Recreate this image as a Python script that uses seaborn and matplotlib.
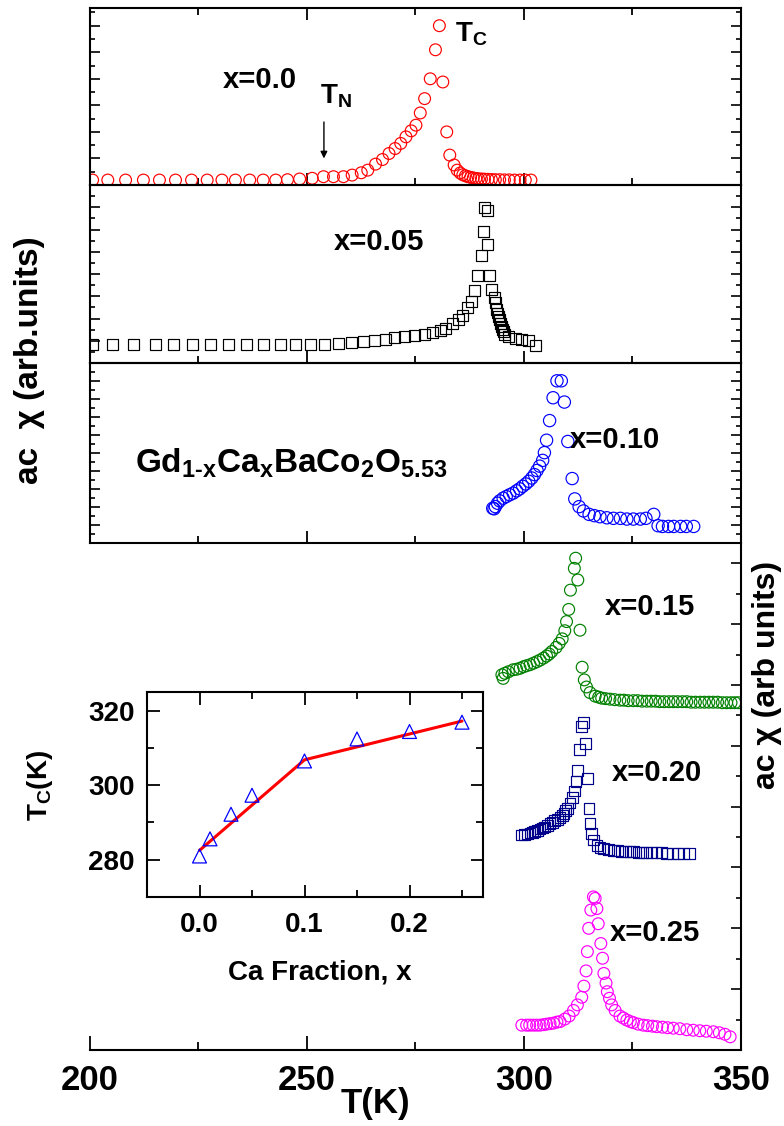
import numpy as np
import pandas as pd
import seaborn as sns
import matplotlib
matplotlib.use("Agg")
import matplotlib.pyplot as plt
from matplotlib.ticker import MultipleLocator

# ---------------- data ----------------
T_x000 = [200.6, 204.1, 208.2, 212.3, 216.0, 219.7, 223.4, 227.0, 230.4, 233.5, 236.8, 239.9, 242.8,
          245.5, 248.3, 251.2, 253.8, 256.1, 258.4, 260.4, 262.5, 264.0, 265.8, 267.4, 268.9, 270.3,
          271.6, 272.8, 274.0, 275.1, 276.1, 277.1, 278.4, 279.6, 280.5, 281.3, 282.2, 282.9, 283.9,
          284.6, 285.3, 285.9, 286.5, 287.1, 287.7, 288.3, 288.9, 289.5, 290.2, 290.9, 291.7, 292.5,
          293.4, 294.4, 295.5, 296.6, 297.8, 299.1, 300.3, 301.6]
chi_x000 = [0.028, 0.028, 0.028, 0.028, 0.028, 0.028, 0.028, 0.028, 0.028, 0.028, 0.028, 0.028, 0.028,
            0.030, 0.034, 0.038, 0.047, 0.047, 0.047, 0.056, 0.069, 0.084, 0.118, 0.144, 0.178, 0.206,
            0.235, 0.272, 0.306, 0.338, 0.407, 0.488, 0.600, 0.764, 0.900, 0.582, 0.300, 0.169, 0.113,
            0.084, 0.068, 0.058, 0.052, 0.047, 0.043, 0.040, 0.037, 0.035, 0.034, 0.033, 0.032, 0.031,
            0.030, 0.030, 0.029, 0.029, 0.028, 0.028, 0.028, 0.028]

T_x005 = [200.6, 205.1, 210.0, 215.0, 219.3, 223.7, 227.8, 231.9, 236.1, 239.9, 243.8, 247.4, 250.7,
          254.1, 257.2, 260.2, 263.1, 265.6, 268.0, 270.2, 272.5, 274.8, 277.1, 278.9, 280.8, 282.0,
          283.6, 284.9, 285.9, 287.0, 287.8, 288.5, 289.2, 290.1, 290.6, 291.0, 291.5, 291.6, 292.1,
          292.6, 293.1, 293.4, 293.7, 294.0, 294.2, 294.4, 294.6, 294.8, 295.0, 295.2, 295.4, 296.4,
          298.0, 299.5, 301.1, 302.6]
chi_x005 = [0.106, 0.106, 0.106, 0.106, 0.106, 0.106, 0.106, 0.106, 0.106, 0.106, 0.106, 0.106, 0.106,
            0.106, 0.110, 0.114, 0.120, 0.125, 0.133, 0.141, 0.148, 0.156, 0.162, 0.171, 0.183, 0.196,
            0.221, 0.243, 0.266, 0.310, 0.344, 0.405, 0.494, 0.605, 0.741, 0.875, 0.856, 0.667, 0.494,
            0.414, 0.367, 0.338, 0.300, 0.281, 0.262, 0.243, 0.224, 0.205, 0.190, 0.177, 0.160, 0.148,
            0.139, 0.133, 0.125, 0.097]

T_x010 = [292.8, 293.1, 293.4, 293.9, 294.4, 295.2, 295.9, 296.7, 297.5, 298.3, 299.0, 299.7, 300.4,
          301.1, 301.8, 302.4, 303.0, 303.6, 304.3, 304.7, 305.2, 305.9, 306.7, 307.6, 308.6, 309.3,
          310.1, 311.1, 311.7, 312.7, 313.7, 315.0, 316.2, 317.5, 319.1, 320.6, 322.2, 323.7, 325.2,
          326.8, 328.1, 329.9, 330.9, 331.9, 333.3, 334.5, 336.1, 337.4, 339.1]
chi_x010 = [0.193, 0.190, 0.202, 0.221, 0.234, 0.249, 0.258, 0.268, 0.277, 0.290, 0.301, 0.315, 0.328,
            0.343, 0.361, 0.380, 0.403, 0.427, 0.459, 0.502, 0.571, 0.680, 0.807, 0.901, 0.901, 0.783,
            0.564, 0.358, 0.245, 0.202, 0.178, 0.159, 0.152, 0.146, 0.140, 0.137, 0.137, 0.133, 0.133,
            0.133, 0.137, 0.159, 0.096, 0.092, 0.092, 0.092, 0.092, 0.092, 0.092]

T_x015 = [294.9, 295.2, 295.6, 296.4, 297.5, 298.3, 299.1, 299.9, 300.6, 301.4, 302.2, 303.0, 303.7,
          304.5, 305.2, 305.8, 306.4, 307.4, 308.1, 308.8, 309.4, 309.8, 310.3, 310.7, 311.6, 311.9,
          312.4, 312.9, 313.4, 313.9, 314.4, 315.2, 316.4, 317.2, 317.9, 318.8, 319.8, 320.9, 322.1,
          323.0, 324.0, 325.2, 326.2, 327.2, 328.3, 329.3, 330.3, 331.3, 332.3, 333.4, 334.4, 335.4,
          336.5, 337.5, 338.5, 339.5, 340.6, 341.6, 342.6, 343.6, 344.6, 345.7, 346.7, 347.7, 348.6,
          349.4]
chi_x015 = [0.740, 0.733, 0.743, 0.746, 0.750, 0.751, 0.753, 0.756, 0.758, 0.760, 0.763, 0.766, 0.769,
            0.773, 0.777, 0.781, 0.786, 0.794, 0.802, 0.811, 0.827, 0.845, 0.869, 0.907, 0.950, 0.970,
            0.927, 0.828, 0.755, 0.730, 0.716, 0.705, 0.698, 0.696, 0.694, 0.693, 0.692, 0.691, 0.690,
            0.690, 0.689, 0.689, 0.689, 0.688, 0.688, 0.688, 0.688, 0.687, 0.687, 0.687, 0.687, 0.687,
            0.687, 0.687, 0.686, 0.686, 0.686, 0.686, 0.686, 0.686, 0.686, 0.685, 0.685, 0.685, 0.685,
            0.685]

T_x020 = [299.5, 300.2, 300.8, 301.4, 302.0, 302.5, 303.1, 303.7, 304.2, 304.8, 305.4, 306.0, 306.5,
          307.1, 307.7, 308.3, 308.8, 309.2, 309.6, 310.0, 310.6, 311.2, 311.6, 312.0, 312.3, 312.8,
          313.3, 313.7, 314.1, 314.6, 315.0, 315.2, 315.6, 316.0, 316.8, 317.5, 318.3, 319.4, 320.6,
          321.5, 322.5, 323.4, 324.4, 325.3, 326.3, 327.3, 328.3, 329.4, 330.6, 331.7, 332.9, 334.2,
          335.5, 336.8, 338.2]
chi_x020 = [0.424, 0.425, 0.426, 0.428, 0.429, 0.431, 0.433, 0.436, 0.438, 0.440, 0.443, 0.446, 0.449,
            0.452, 0.455, 0.458, 0.462, 0.467, 0.472, 0.477, 0.487, 0.498, 0.511, 0.529, 0.552, 0.593,
            0.638, 0.646, 0.604, 0.536, 0.477, 0.447, 0.427, 0.414, 0.404, 0.400, 0.398, 0.396, 0.394,
            0.393, 0.392, 0.392, 0.391, 0.391, 0.390, 0.390, 0.389, 0.389, 0.389, 0.389, 0.388, 0.388,
            0.388, 0.388, 0.388]

T_x025 = [299.5, 300.6, 301.3, 302.1, 302.9, 303.7, 304.5, 305.2, 306.0, 306.8, 307.6, 308.3, 309.4,
          310.4, 311.4, 312.3, 313.3, 313.8, 314.3, 314.6, 314.9, 315.4, 316.0, 316.4, 316.8, 317.1,
          317.7, 318.1, 318.4, 318.9, 319.2, 319.7, 320.2, 321.0, 322.1, 322.9, 323.7, 324.5, 325.2,
          326.3, 327.5, 328.5, 329.6, 330.6, 331.9, 333.1, 334.4, 335.9, 337.5, 339.0, 340.5, 342.0,
          343.6, 345.0, 346.3, 347.5]
chi_x025 = [0.049, 0.049, 0.049, 0.049, 0.049, 0.049, 0.050, 0.051, 0.052, 0.053, 0.055, 0.056, 0.061,
            0.067, 0.078, 0.089, 0.104, 0.126, 0.156, 0.194, 0.240, 0.276, 0.302, 0.299, 0.279, 0.249,
            0.210, 0.181, 0.151, 0.132, 0.115, 0.102, 0.089, 0.078, 0.067, 0.063, 0.059, 0.056, 0.054,
            0.051, 0.049, 0.048, 0.047, 0.046, 0.045, 0.044, 0.043, 0.042, 0.040, 0.039, 0.038, 0.037,
            0.036, 0.034, 0.031, 0.026]

ca_fraction = [0.0, 0.01, 0.03, 0.05, 0.10, 0.15, 0.20, 0.25]
tc_values = [281.0, 285.6, 292.2, 297.3, 306.5, 312.4, 314.4, 316.9]
fit_x = [0.0, 0.10, 0.25]
fit_tc = [282.5, 306.8, 317.2]

x_ticks_main = [200, 250, 300, 350]
inset_xticks = [0.0, 0.1, 0.2]
inset_yticks = [280, 300, 320]

# ---------------- style ----------------
sns.set_theme(style="ticks")
FONT = ["Liberation Sans", "DejaVu Sans"]
plt.rcParams["font.family"] = FONT
plt.rcParams["font.weight"] = "bold"
plt.rcParams["mathtext.fontset"] = "custom"
plt.rcParams["mathtext.rm"] = "Liberation Sans:bold"
plt.rcParams["mathtext.it"] = "Liberation Sans:bold"
plt.rcParams["mathtext.bf"] = "Liberation Sans:bold"
plt.rcParams["mathtext.default"] = "rm"
plt.rcParams["axes.linewidth"] = 1.5
plt.rcParams["axes.edgecolor"] = "black"
plt.rcParams["xtick.color"] = "black"
plt.rcParams["ytick.color"] = "black"
plt.rcParams["text.color"] = "black"

W, H = 784, 1126
fig = plt.figure(figsize=(W / 100, H / 100), dpi=100)


def box(x0, y0, x1, y1):
    return [x0 / W, 1 - y1 / H, (x1 - x0) / W, (y1 - y0) / H]


ax1 = fig.add_axes(box(90, 8, 741, 185))
ax2 = fig.add_axes(box(90, 185, 741, 363))
ax3 = fig.add_axes(box(90, 363, 741, 543))
axb = fig.add_axes(box(90, 543, 741, 1050))
axi = fig.add_axes(box(147, 692, 483, 897))

mk = dict(linewidth=0.85)
sns.scatterplot(x=T_x000, y=chi_x000, ax=ax1, marker="o", s=72, color="#ff0000",
                facecolor="none", edgecolor="#ff0000", **mk)
sns.scatterplot(x=T_x005, y=chi_x005, ax=ax2, marker="s", s=62, color="black",
                facecolor="none", edgecolor="black", **mk)
sns.scatterplot(x=T_x010, y=chi_x010, ax=ax3, marker="o", s=78, color="#0000ff",
                facecolor="none", edgecolor="#0000ff", **mk)
sns.scatterplot(x=T_x015, y=chi_x015, ax=axb, marker="o", s=72, color="#008000",
                facecolor="none", edgecolor="#008000", **mk)
sns.scatterplot(x=T_x020, y=chi_x020, ax=axb, marker="s", s=60, color="#00008b",
                facecolor="none", edgecolor="#00008b", **mk)
sns.scatterplot(x=T_x025, y=chi_x025, ax=axb, marker="o", s=72, color="#ff00ff",
                facecolor="none", edgecolor="#ff00ff", **mk)

# top panels
ysteps = {ax1: 0.075, ax2: 0.0625, ax3: 0.05}
for ax in (ax1, ax2, ax3):
    ax.set_xlim(200, 350)
    ax.set_ylim(0, 1)
    ax.set_xlabel("")
    ax.set_ylabel("")
    ax.xaxis.set_major_locator(MultipleLocator(50))
    ax.xaxis.set_minor_locator(MultipleLocator(25))
    ax.yaxis.set_major_locator(MultipleLocator(2 * ysteps[ax]))
    ax.yaxis.set_minor_locator(MultipleLocator(ysteps[ax]))
    ax.tick_params(axis="x", which="both", direction="in", bottom=True, top=(ax is ax1),
                   labelbottom=False, width=1.3)
    ax.tick_params(axis="x", which="major", length=8.5)
    ax.tick_params(axis="x", which="minor", length=5)
    ax.tick_params(axis="y", which="both", direction="in", left=True, right=True,
                   labelleft=False, width=1.2)
    ax.tick_params(axis="y", which="major", length=7)
    ax.tick_params(axis="y", which="minor", length=3.5)
    for s in ax.spines.values():
        s.set_linewidth(1.5)
    ax.patch.set_alpha(0)

# bottom panel
axb.set_xlim(200, 350)
axb.set_ylim(0, 1)
axb.set_xlabel("")
axb.set_ylabel("")
axb.spines["left"].set_visible(False)
axb.spines["top"].set_visible(False)
axb.set_xticks(x_ticks_main)
axb.set_xticklabels([str(v) for v in x_ticks_main], fontsize=25, fontweight="bold")
axb.xaxis.set_minor_locator(MultipleLocator(25))
axb.yaxis.set_major_locator(MultipleLocator(0.12))
axb.yaxis.set_minor_locator(MultipleLocator(0.06))
axb.tick_params(axis="x", which="both", direction="in", bottom=True, top=False, width=1.3, pad=10)
axb.tick_params(axis="x", which="major", length=10)
axb.tick_params(axis="x", which="minor", length=6)
axb.tick_params(axis="y", which="both", direction="in", left=False, right=True,
                labelleft=False, labelright=False, width=1.2)
axb.tick_params(axis="y", which="major", length=7)
axb.tick_params(axis="y", which="minor", length=3.5)
axb.patch.set_alpha(0)

# inset
sns.lineplot(x=fit_x, y=fit_tc, ax=axi, color="#ff0000", linewidth=2.2, sort=False, estimator=None)
sns.scatterplot(x=ca_fraction, y=tc_values, ax=axi, marker="^", s=100, color="#0000ff",
                facecolor="none", edgecolor="#0000ff", linewidth=0.9, zorder=3)
axi.set_xlim(-0.05, 0.27)
axi.set_ylim(270, 325)
axi.set_xlabel("")
axi.set_ylabel("")
axi.set_xticks(inset_xticks)
axi.set_xticklabels(["0.0", "0.1", "0.2"], fontsize=20, fontweight="bold")
axi.set_yticks(inset_yticks)
axi.set_yticklabels([str(v) for v in inset_yticks], fontsize=20, fontweight="bold")
axi.xaxis.set_minor_locator(MultipleLocator(0.05))
axi.yaxis.set_minor_locator(MultipleLocator(10))
axi.tick_params(axis="both", which="both", direction="in", top=True, right=True, width=1.3)
axi.tick_params(axis="both", which="major", length=9)
axi.tick_params(axis="both", which="minor", length=5)
axi.tick_params(axis="x", pad=11)
axi.tick_params(axis="y", pad=9)
for s in axi.spines.values():
    s.set_linewidth(1.5)

# annotations
tb = dict(fontweight="bold", color="black")
ax1.text(239.2, 0.593, "x=0.0", ha="center", va="center", fontsize=21, **tb)
ax1.text(253.0, 0.463, r"T$_\mathrm{N}$", ha="left", va="baseline", fontsize=20, **tb)
ax1.annotate("", xy=(253.9, 0.150), xytext=(253.9, 0.356),
             arrowprops=dict(arrowstyle="-|>", color="black", lw=1.0, mutation_scale=10,
                             shrinkA=0, shrinkB=0))
ax1.text(284.1, 0.808, r"T$_\mathrm{C}$", ha="left", va="baseline", fontsize=20, **tb)
ax2.text(266.6, 0.680, "x=0.05", ha="center", va="center", fontsize=21, **tb)
ax3.text(210.4, 0.389, r"Gd$_{1\text{-}x}$Ca$_x$BaCo$_2$O$_{5.53}$", ha="left", va="baseline",
         fontsize=24, **tb)
ax3.text(321.0, 0.572, "x=0.10", ha="center", va="center", fontsize=21, **tb)
axb.text(329.0, 0.874, "x=0.15", ha="center", va="center", fontsize=21, **tb)
axb.text(330.6, 0.546, "x=0.20", ha="center", va="center", fontsize=21, **tb)
axb.text(330.2, 0.231, "x=0.25", ha="center", va="center", fontsize=21, **tb)

fig.text(30 / W, 1 - 360 / H, "ac  \u03c7 (arb.units)", rotation=90, ha="center", va="center",
         fontsize=24, **tb)
fig.text(767 / W, 1 - 675 / H, "ac \u03c7 (arb units)", rotation=90, ha="center", va="center",
         fontsize=23, **tb)
fig.text(375 / W, 1 - 1103 / H, "T(K)", ha="center", va="center", fontsize=25, **tb)
fig.text(40 / W, 1 - 785 / H, r"T$_\mathrm{C}$(K)", rotation=90, ha="center", va="center",
         fontsize=20, **tb)
fig.text(320 / W, 1 - 972 / H, "Ca Fraction, x", ha="center", va="center", fontsize=20, **tb)

fig.savefig("out.png", dpi=100, facecolor="white")
